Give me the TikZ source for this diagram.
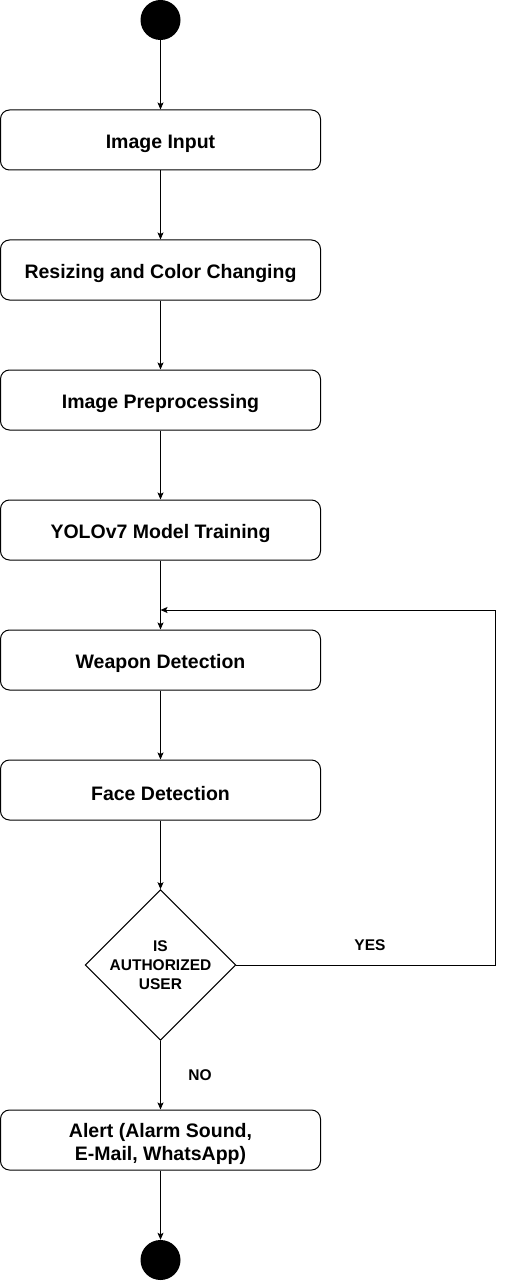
\documentclass[tikz,border=0pt]{standalone}
\usepackage{fontspec}
\setmainfont{Liberation Sans}
\usetikzlibrary{shapes.geometric,arrows.meta}
\begin{document}
\begin{tikzpicture}[x=1pt,y=-1pt,
  stepbox/.style={draw,rounded corners=9pt,minimum width=320pt,minimum height=60pt,inner sep=0pt,line width=1pt,label={[boxtext]center:#1}},
  boxtext/.style={align=center,inner sep=0pt,yshift=-3.5pt,font=\fontsize{19.5}{23}\selectfont\bfseries},
  dot/.style={circle,fill=black,minimum size=40pt,inner sep=0pt},
  choice/.style={draw,diamond,minimum width=150pt,minimum height=150pt,inner sep=0pt,aspect=1,line width=1pt,align=center,font=\fontsize{15.5}{19}\selectfont\bfseries},
  lbl/.style={font=\fontsize{15.5}{18}\selectfont\bfseries},
  conn/.style={line width=1pt,-{Stealth[length=7pt,width=6pt,inset=1.5pt]}}]
\useasboundingbox (0,0) rectangle (509,1281);
\node[dot] (start) at (160.5,20) {};
\node[stepbox={Image Input}] (n1) at (160.5,140) {};
\node[stepbox={Resizing and Color Changing}] (n2) at (160.5,270) {};
\node[stepbox={Image Preprocessing}] (n3) at (160.5,400) {};
\node[stepbox={YOLOv7 Model Training}] (n4) at (160.5,530) {};
\node[stepbox={Weapon Detection}] (n5) at (160.5,660) {};
\node[stepbox={Face Detection}] (n6) at (160.5,790) {};
\node[choice] (d) at (160.5,965) {IS\\AUTHORIZED\\USER};
\node[stepbox={Alert (Alarm Sound,\\E-Mail, WhatsApp)}] (n7) at (160.5,1140) {};
\node[dot] (stop) at (160.5,1260) {};
\coordinate (c1) at (495,965);
\coordinate (c2) at (495,610);
\coordinate (c3) at (160.5,610);
\draw[conn] (start) -- (n1);
\draw[conn] (n1) -- (n2);
\draw[conn] (n2) -- (n3);
\draw[conn] (n3) -- (n4);
\draw[conn] (n4) -- (n5);
\draw[conn] (n5) -- (n6);
\draw[conn] (n6) -- (d);
\draw[conn] (d) -- (n7);
\draw[conn] (n7) -- (stop);
\draw[conn] (d.east) -- (c1) -- (c2) -- (c3);
\node[lbl] (yes) at (370,945) {YES};
\node[lbl] (no) at (200,1075) {NO};
\end{tikzpicture}
\end{document}
